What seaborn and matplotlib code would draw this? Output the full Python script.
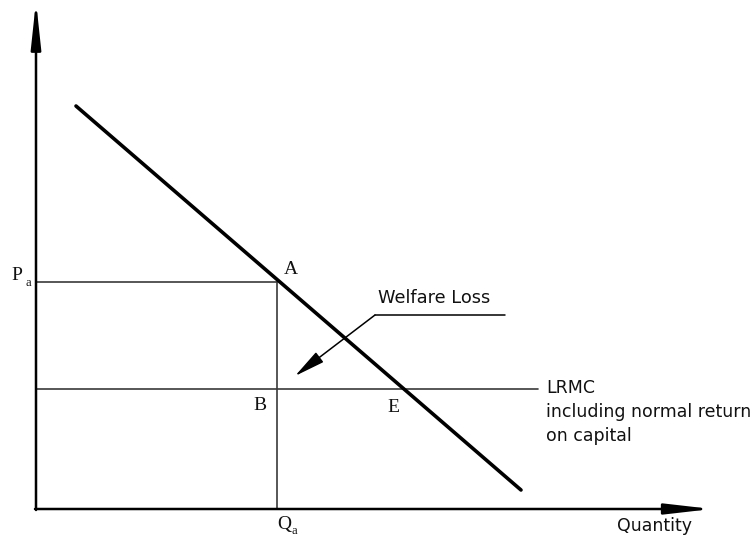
import matplotlib
matplotlib.use("Agg")
import matplotlib.pyplot as plt
import seaborn as sns
import pandas as pd

# diagram values (in drawing units, origin bottom-left)
H = 539
demand_q = [76, 521]
demand_p = [H - 106, H - 490]
q_origin = 36
p_origin = H - 509
q_a = 277
p_a = H - 282
lrmc = H - 389
lrmc_end = 538
x_axis_end = 700
y_axis_end = H - 12

sns.set_style("white")
plt.rcParams['font.family'] = ['DejaVu Sans']
plt.rcParams['text.color'] = '#111111'

fig = plt.figure(figsize=(7.56, 5.39), dpi=100)
ax = fig.add_axes([0, 0, 1, 1])
ax.set_xlim(0, 756)
ax.set_ylim(0, H)
ax.axis("off")

thin_col = "#3a3a3a"

# axes with arrows (the arrow patch stops ~11px short of its target, so aim past it)
ax.annotate("", xy=(q_origin, y_axis_end + 11), xytext=(q_origin, p_origin - 1),
            arrowprops=dict(arrowstyle="-|>,head_length=2.8,head_width=0.3",
                            color="black", lw=1.8, shrinkA=0, shrinkB=0))
ax.annotate("", xy=(x_axis_end + 12, p_origin), xytext=(q_origin - 1, p_origin),
            arrowprops=dict(arrowstyle="-|>,head_length=2.8,head_width=0.32",
                            color="black", lw=1.8, shrinkA=0, shrinkB=0))

# guide lines
line_kw = dict(ax=ax, color=thin_col, lw=1.2, estimator=None, sort=False)
sns.lineplot(x=[q_origin, q_a], y=[p_a, p_a], **line_kw)
sns.lineplot(x=[q_a, q_a], y=[p_origin, p_a], **line_kw)
sns.lineplot(x=[q_origin, lrmc_end], y=[lrmc, lrmc], **line_kw)

# demand curve
demand = pd.DataFrame({"q": demand_q, "p": demand_p})
sns.lineplot(data=demand, x="q", y="p", ax=ax, color="black", lw=2.6,
             estimator=None, sort=False)

# welfare loss pointer
ax.plot([375, 505], [H - 315, H - 315], color="black", lw=1.1)
ax.annotate("", xy=(295, H - 376), xytext=(375, H - 315),
            arrowprops=dict(arrowstyle="-|>,head_length=1.9,head_width=0.38",
                            color="black", lw=1.1, shrinkA=0, shrinkB=0))
ax.text(378, H - 298, "Welfare Loss", fontsize=12.8, va="center", ha="left")

# point labels
serif = ["Liberation Serif", "DejaVu Serif"]
ax.text(291, H - 269, "A", family=serif, fontsize=14, ha="center", va="center")
ax.text(260, H - 405, "B", family=serif, fontsize=14, ha="center", va="center")
ax.text(393, H - 408, "E", family=serif, fontsize=14, ha="center", va="center")
ax.text(11, H - 276, "P", family=serif, fontsize=14, ha="left", va="center")
ax.text(25, H - 283, "a", family=serif, fontsize=9, ha="left", va="center")
ax.text(277, H - 524, "Q", family=serif, fontsize=14, ha="left", va="center")
ax.text(291, H - 531, "a", family=serif, fontsize=9, ha="left", va="center")

ax.text(546, H - 379, "LRMC\nincluding normal return\non capital",
        fontsize=12.5, ha="left", va="top", linespacing=1.42)
ax.text(655, H - 526, "Quantity", fontsize=12.5, ha="center", va="center")

fig.savefig("out.png", dpi=100)
